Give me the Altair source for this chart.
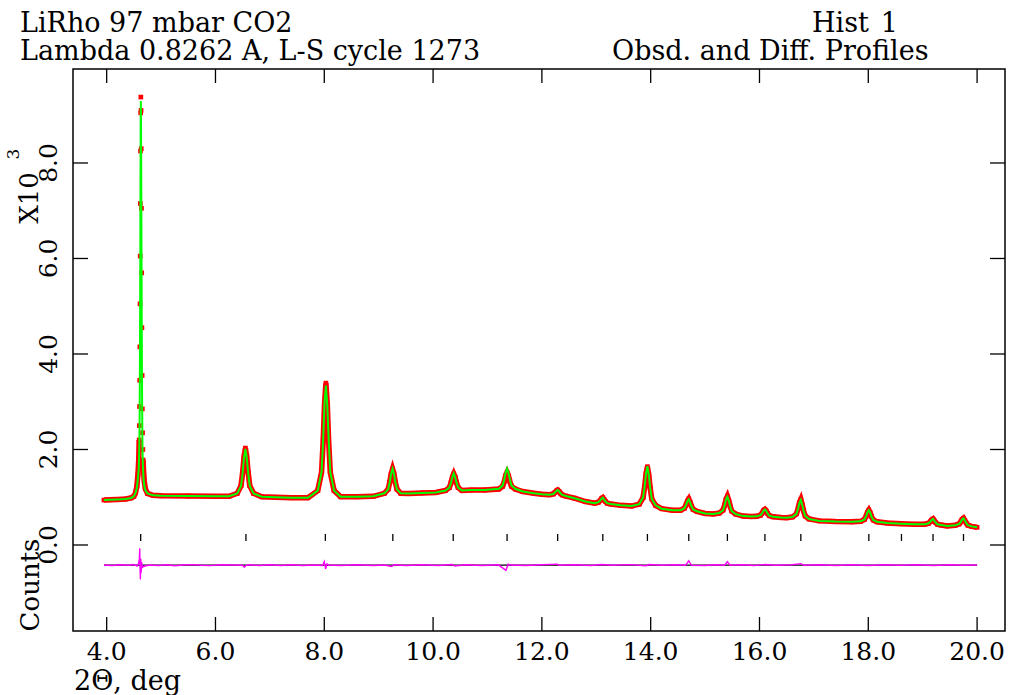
import altair as alt
import pandas as pd

# ---------------- data ----------------
tth = [3.95, 4.05, 4.20, 4.35, 4.45, 4.50, 4.53, 4.555, 4.575, 4.59, 4.597, 4.601, 4.604, 4.607,
       4.610, 4.613, 4.616, 4.619, 4.622, 4.625, 4.628, 4.632, 4.636, 4.640, 4.644, 4.648, 4.652,
       4.656, 4.660, 4.665, 4.670, 4.677, 4.69, 4.71, 4.75, 4.85, 5.0, 5.5, 6.0, 6.25,
       6.40, 6.47, 6.50, 6.525, 6.55, 6.575, 6.60, 6.63, 6.70,
       6.85, 7.1, 7.4, 7.7,
       7.88, 7.95, 7.98, 8.005, 8.03, 8.055, 8.08, 8.11, 8.18,
       8.3, 8.6, 8.9,
       9.105, 9.175, 9.205, 9.23, 9.255, 9.28, 9.305, 9.335, 9.405,
       9.55, 9.8, 10.05,
       10.23, 10.30, 10.33, 10.355, 10.38, 10.405, 10.43, 10.46, 10.53,
       10.7, 10.95,
       11.21, 11.28, 11.31, 11.335, 11.36, 11.385, 11.41, 11.44, 11.51,
       11.65, 11.85, 12.0,
       12.14, 12.21, 12.24, 12.265, 12.29, 12.315, 12.34, 12.37, 12.44,
       12.6, 12.8,
       12.97, 13.04, 13.07, 13.095, 13.12, 13.145, 13.17, 13.20, 13.27,
       13.45, 13.65,
       13.79, 13.86, 13.89, 13.915, 13.94, 13.965, 13.99, 14.02, 14.09,
       14.2, 14.4,
       14.55, 14.62, 14.65, 14.675, 14.70, 14.725, 14.75, 14.78, 14.85,
       15.0, 15.15,
       15.26, 15.33, 15.36, 15.385, 15.41, 15.435, 15.46, 15.49, 15.56,
       15.7, 15.85,
       15.95, 16.02, 16.05, 16.075, 16.10, 16.125, 16.15, 16.18, 16.25,
       16.4, 16.5,
       16.61, 16.68, 16.71, 16.735, 16.76, 16.785, 16.81, 16.84, 16.91,
       17.1, 17.4, 17.7,
       17.86, 17.93, 17.96, 17.985, 18.01, 18.035, 18.06, 18.09, 18.16,
       18.35, 18.6, 18.85,
       19.04, 19.11, 19.14, 19.165, 19.19, 19.215, 19.24, 19.27, 19.34,
       19.45,
       19.60, 19.67, 19.70, 19.725, 19.75, 19.775, 19.80, 19.83, 19.90,
       20.0]
obs = [940, 945, 955, 965, 985, 1020, 1090, 1230, 1480, 1800, 2200, 2500, 2900, 3450,
       4150, 5050, 6050, 7150, 8250, 9050, 9380, 9100, 8300, 7050, 5700, 4550, 3550,
       2850, 2350, 2000, 1780, 1570, 1350, 1180, 1080, 1040, 1030, 1025, 1020, 1020,
       1081, 1242, 1525, 1848, 2030, 1848, 1525, 1242, 1081,
       1010, 1000, 990, 990,
       1139, 1522, 2193, 2959, 3390, 2959, 2193, 1522, 1139,
       1010, 1010, 1020,
       1082, 1169, 1320, 1493, 1590, 1493, 1320, 1169, 1082,
       1080, 1090, 1100,
       1142, 1201, 1305, 1423, 1490, 1423, 1305, 1201, 1142,
       1150, 1150,
       1172, 1231, 1335, 1453, 1520, 1453, 1335, 1231, 1172,
       1120, 1085, 1065,
       1051, 1068, 1098, 1131, 1150, 1125, 1085, 1050, 1025,
       980, 910,
       877, 896, 930, 968, 990, 948, 910, 876, 857,
       830, 815,
       855, 990, 1225, 1494, 1640, 1469, 1200, 965, 830,
       760, 730,
       730, 770, 840, 920, 965, 895, 815, 745, 705,
       660, 650,
       668, 729, 835, 957, 1020, 937, 815, 709, 648,
       605, 595,
       600, 625, 670, 721, 745, 711, 660, 615, 590,
       575, 570,
       589, 652, 763, 889, 955, 844, 718, 607, 544,
       505, 490, 485,
       495, 535, 605, 685, 730, 675, 595, 525, 485,
       460, 445, 435,
       437, 455, 488, 524, 545, 504, 468, 435, 417,
       400,
       415, 440, 485, 536, 560, 511, 460, 415, 390,
       370]
calc = [940, 945, 955, 965, 985, 1020, 1090, 1200, 1400, 1600, 1900, 2150, 2450, 2900,
        3500, 4300, 5300, 6400, 7700, 8800, 9300, 8700, 7500, 6100, 4800, 3700, 2900,
        2300, 1950, 1700, 1550, 1400, 1250, 1150, 1080, 1040, 1030, 1025, 1020, 1020,
        1078, 1235, 1515, 1835, 2010, 1835, 1515, 1235, 1078,
        1010, 1000, 990, 990,
        1139, 1530, 2220, 3000, 3340, 2930, 2220, 1530, 1139,
        1010, 1010, 1020,
        1082, 1169, 1325, 1500, 1600, 1500, 1325, 1169, 1082,
        1080, 1090, 1100,
        1142, 1201, 1305, 1425, 1500, 1425, 1305, 1201, 1142,
        1150, 1150,
        1177, 1249, 1375, 1519, 1600, 1519, 1375, 1249, 1177,
        1120, 1085, 1065,
        1051, 1068, 1098, 1131, 1150, 1125, 1085, 1050, 1025,
        980, 910,
        877, 896, 930, 968, 990, 948, 910, 876, 857,
        830, 815,
        855, 995, 1235, 1505, 1650, 1475, 1205, 965, 830,
        760, 730,
        730, 770, 840, 915, 955, 885, 810, 745, 705,
        660, 650,
        668, 729, 835, 950, 1010, 930, 812, 709, 648,
        605, 595,
        600, 625, 670, 721, 745, 711, 660, 615, 590,
        575, 570,
        589, 652, 763, 885, 945, 840, 718, 607, 544,
        505, 490, 485,
        495, 535, 605, 685, 730, 675, 595, 525, 485,
        460, 445, 435,
        437, 455, 488, 524, 545, 504, 468, 435, 417,
        400,
        415, 440, 485, 536, 560, 511, 460, 415, 390,
        370]
# observed points on the strongest peak's flanks are drawn as separate dots, not joined
obs_break = (4.598, 4.667)

diff_tth = [3.95, 4.1, 4.25, 4.4, 4.5, 4.56, 4.585, 4.600, 4.608, 4.614, 4.620, 4.627, 4.634,
            4.642, 4.655, 4.68, 4.72, 4.8, 4.95, 5.1, 5.25, 5.4, 5.6, 5.75, 5.9, 6.1, 6.3, 6.5,
            6.53, 6.56, 6.6, 6.8, 7.0, 7.2, 7.4, 7.6, 7.8, 7.97, 8.0, 8.025, 8.05, 8.08, 8.3,
            8.6, 8.9, 9.1, 9.24, 9.28, 9.5, 9.8, 10.1, 10.35, 10.4, 10.6, 10.9, 11.2, 11.34,
            11.38, 11.42, 11.7, 12.0, 12.28, 12.32, 12.6, 12.9, 13.1, 13.3, 13.6, 13.92, 13.96,
            14.2, 14.45, 14.64, 14.70, 14.75, 15.0, 15.2, 15.36, 15.41, 15.46, 15.7, 15.9, 16.1,
            16.3, 16.6, 16.76, 16.82, 17.1, 17.4, 17.7, 18.0, 18.3, 18.6, 18.9, 19.2, 19.5,
            19.75, 20.0]
diff_val = [0, -8, 6, -5, 10, -20, 30, 120, 350, -80, -300, 130, -160,
            60, -50, -30, -15, 0, -10, 5, -15, 0, 8, -5, -12, 5, 0, -5,
            -45, -10, 5, -8, 5, -10, 5, -8, 0, -10, 70, -80, 25, 0, -10,
            5, -8, 0, -30, 5, -10, 5, -8, 10, -20, 5, -10, 5, -110,
            20, 0, -8, 5, 20, -5, 5, -10, 10, -5, 8, -15, 10,
            -5, 5, -5, 90, -5, -8, 5, -5, 70, -5, 5, -10, 10,
            -5, 5, 30, -5, 5, -10, 5, -10, 5, -5, 5, -10, 5,
            -5, 0]
diff_offset = -420

refl = [4.625, 6.56, 8.02, 9.26, 10.37, 11.36, 12.29, 13.12, 13.94, 14.70, 15.41, 16.10,
        16.76, 18.01, 18.61, 19.19, 19.75]
refl_lo, refl_hi = 85, 230

x_ticks = [4, 6, 8, 10, 12, 14, 16, 18, 20]
x_tick_labels = ["4.0", "6.0", "8.0", "10.0", "12.0", "14.0", "16.0", "18.0", "20.0"]
y_ticks = [0, 2000, 4000, 6000, 8000]
y_tick_labels = ["0.0", "2.0", "4.0", "6.0", "8.0"]

# ---------------- layout ----------------
W, H = 932, 562
FONT = "DejaVu Serif"
xs = alt.Scale(domain=[3.381, 20.513], nice=False, zero=False)
ys = alt.Scale(domain=[-1801, 9968], nice=False, zero=False)

prof = pd.DataFrame({"tth": tth, "obs": obs, "calc": calc})
prof["seg"] = (prof["tth"] > obs_break[0]).astype(int) + (prof["tth"] > obs_break[1]).astype(int)
prof_line = prof[prof["seg"] != 1]
dif = pd.DataFrame({"tth": diff_tth, "d": [v + diff_offset for v in diff_val]})
zero = pd.DataFrame({"x1": [tth[0]], "x2": [tth[-1]], "y": [diff_offset]})
rf = pd.DataFrame({"x": refl, "lo": [refl_lo] * len(refl), "hi": [refl_hi] * len(refl)})
xt = pd.DataFrame({"v": x_ticks, "lab": x_tick_labels})
yt = pd.DataFrame({"v": y_ticks, "lab": y_tick_labels})

X = lambda f: alt.X(f, type="quantitative", scale=xs, axis=None)
Y = lambda f: alt.Y(f, type="quantitative", scale=ys, axis=None)

obs_line = alt.Chart(prof_line).mark_line(color="#ff0000", strokeWidth=5.5).encode(
    x=X("tth"), y=Y("obs"), detail="seg:N")
obs_pts = alt.Chart(prof).mark_square(color="#ff0000", size=22, opacity=1).encode(x=X("tth"), y=Y("obs"))
calc_line = alt.Chart(prof).mark_line(color="#00ff00", strokeWidth=2).encode(x=X("tth"), y=Y("calc"))

zero_line = alt.Chart(zero).mark_rule(color="black", strokeWidth=1.3).encode(
    x=X("x1"), x2="x2", y=Y("y"))
diff_line = alt.Chart(dif).mark_line(color="#ff00ff", strokeWidth=1.4).encode(x=X("tth"), y=Y("d"))

refl_ticks = alt.Chart(rf).mark_rule(color="black", strokeWidth=1.3).encode(
    x=X("x"), y=Y("lo"), y2="hi")

tb = alt.Chart(xt).mark_rule(color="black", strokeWidth=1.3).encode(
    x=X("v"), y=alt.value(H), y2=alt.value(H - 14))
tt = alt.Chart(xt).mark_rule(color="black", strokeWidth=1.3).encode(
    x=X("v"), y=alt.value(0), y2=alt.value(14))
tl = alt.Chart(yt).mark_rule(color="black", strokeWidth=1.3).encode(
    y=Y("v"), x=alt.value(0), x2=alt.value(15))
tr = alt.Chart(yt).mark_rule(color="black", strokeWidth=1.3).encode(
    y=Y("v"), x=alt.value(W - 15), x2=alt.value(W))

xlab = alt.Chart(xt).mark_text(font=FONT, fontSize=25, align="center", baseline="alphabetic",
                               color="black").encode(x=X("v"), y=alt.value(H + 29), text="lab")
ylab = alt.Chart(yt).mark_text(font=FONT, fontSize=25, align="center", baseline="alphabetic",
                               angle=270, color="black").encode(y=Y("v"), x=alt.value(-16), text="lab")


def label(txt, x, y, size=27, angle=0, align="left"):
    return alt.Chart(pd.DataFrame({"t": [txt]})).mark_text(
        font=FONT, fontSize=size, align=align, baseline="alphabetic", angle=angle, color="black"
    ).encode(x=alt.value(x), y=alt.value(y), text="t")


OX, OY = 73, 69
texts = [
    label("LiRho 97 mbar CO2", 20 - OX, 32 - OY),
    label("Lambda 0.8262 A, L-S cycle 1273", 20 - OX, 60 - OY),
    label("Hist", 812 - OX, 32 - OY),
    label("1", 898 - OX, 32 - OY, align="right"),
    label("Obsd. and Diff. Profiles", 612 - OX, 60 - OY),
    label("2\u0398, deg", 74 - OX, 690 - OY),
    label("X10", 38 - OX, 198 - OY, size=26, angle=270, align="center"),
    label("3", 19 - OX, 154 - OY, size=17, angle=270, align="center"),
    label("Counts", 39 - OX, 585 - OY, size=26, angle=270, align="center"),
]

chart = alt.layer(
    obs_line, obs_pts, calc_line, zero_line, diff_line, refl_ticks,
    tb, tt, tl, tr, xlab, ylab, *texts
).properties(
    width=W, height=H,
    autosize=alt.AutoSizeParams(type="none"),
    padding={"left": OX, "top": OY, "right": 1011 - OX - W, "bottom": 695 - OY - H},
    background="white",
).configure_view(stroke="black", strokeWidth=1.5)

chart.save("out.html", embed_options={"renderer": "svg", "actions": False})
